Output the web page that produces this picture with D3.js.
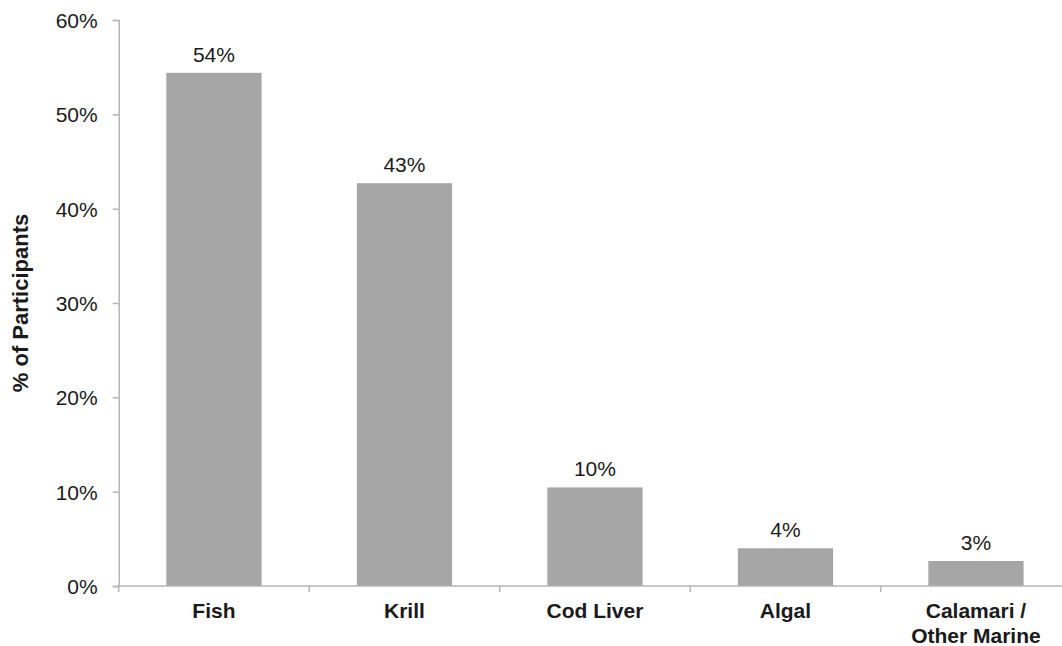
<!DOCTYPE html>
<html>
<head>
<meta charset="utf-8">
<script src="https://cdn.jsdelivr.net/npm/d3@7"></script>
<style>
  html, body { margin: 0; padding: 0; background: #fff; }
  svg { display: block; overflow: hidden; }
  text { font-family: "Liberation Sans", Arial, sans-serif; fill: #1a1a1a; }
</style>
</head>
<body>
<svg id="chart" width="1062" height="646"></svg>
<script>
const categories = ["Fish", "Krill", "Cod Liver", "Algal", "Calamari /\nOther Marine"];
const values = [54.4, 42.7, 10.45, 4.0, 2.65];
const yTicks = [0, 10, 20, 30, 40, 50, 60];
const yTitle = "% of Participants";

const svg = d3.select("#chart");
const x0 = 118.7, yTop = 20, yBot = 586;
const step = 190.5;

const x = d3.scaleBand().domain(categories).range([x0, x0 + step * categories.length])
  .paddingInner(0.5).paddingOuter(0.25);
const y = d3.scaleLinear().domain([0, 60]).range([yBot, yTop]);

const axisColor = "#b5b5b5";

// bars
svg.append("g").selectAll("rect").data(values).join("rect")
  .attr("x", (d, i) => x(categories[i]))
  .attr("y", d => y(d))
  .attr("width", x.bandwidth())
  .attr("height", d => y(0) - y(d))
  .attr("fill", "#a6a6a6");

// value labels
svg.append("g").selectAll("text").data(values).join("text")
  .attr("x", (d, i) => x(categories[i]) + x.bandwidth() / 2)
  .attr("y", d => y(d) - 11)
  .attr("text-anchor", "middle")
  .style("font-size", "21px")
  .text(d => Math.round(d) + "%");

// y axis
const yAxis = d3.axisLeft(y).tickValues(yTicks).tickFormat(d => d + "%").tickSize(6).tickPadding(15);
const gy = svg.append("g").attr("transform", `translate(${x0},0)`).call(yAxis);
gy.select(".domain").attr("stroke", axisColor).attr("stroke-width", 1.5);
gy.selectAll(".tick line").attr("stroke", axisColor).attr("stroke-width", 1.5);
gy.selectAll(".tick text").style("font-size", "21px").attr("dy", "0.35em").attr("fill", "#1a1a1a");

// x axis with boundary ticks
const boundaries = d3.range(categories.length + 1).map(i => x0 + i * step);
const gx = svg.append("g");
gx.append("line").attr("x1", x0).attr("x2", x0 + step * categories.length)
  .attr("y1", yBot).attr("y2", yBot).attr("stroke", axisColor).attr("stroke-width", 1.5);
gx.selectAll("line.bt").data(boundaries).join("line").attr("class", "bt")
  .attr("x1", d => d).attr("x2", d => d).attr("y1", yBot).attr("y2", yBot + 6)
  .attr("stroke", axisColor).attr("stroke-width", 1.5);

// category labels
svg.append("g").selectAll("text").data(categories).join("text")
  .attr("x", d => x(d) + x.bandwidth() / 2)
  .attr("y", 618)
  .attr("text-anchor", "middle")
  .style("font-size", "21px").style("font-weight", "bold")
  .each(function(d) {
    const lines = d.split("\n");
    d3.select(this).selectAll("tspan").data(lines).join("tspan")
      .attr("x", d3.select(this).attr("x"))
      .attr("dy", (l, i) => i === 0 ? 0 : 24.5)
      .text(l => l);
  });

// y title
svg.append("text")
  .attr("transform", `translate(28,303) rotate(-90)`)
  .attr("text-anchor", "middle")
  .style("font-size", "22px").style("font-weight", "bold")
  .text(yTitle);
</script>
</body>
</html>
